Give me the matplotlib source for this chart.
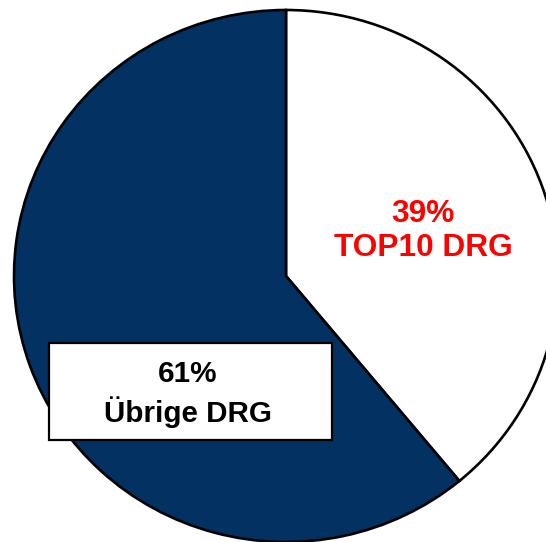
import matplotlib
matplotlib.use("Agg")
import matplotlib.pyplot as plt
from matplotlib.patches import Rectangle

labels = ["TOP10 DRG", "Übrige DRG"]
values = [39, 61]
colors = ["#ffffff", "#023162"]

W, H = 546, 542
fig = plt.figure(figsize=(W / 100, H / 100), dpi=100)
# axes in pixel terms: x 14..558, y(top) 10..542
ax = fig.add_axes([14 / W, 0 / H, 544 / W, 532 / H])
ax.pie(values, colors=colors, startangle=90, counterclock=False,
       wedgeprops=dict(edgecolor="black", linewidth=1.9), radius=1.0)
ax.set_xlim(-1, 1)
ax.set_ylim(-1, 1)
ax.set_aspect("auto")
ax.axis("off")

font = "Liberation Sans"
ax.text(0.504, 0.168, f"{values[0]}%\n{labels[0]}", color="#ff0000",
        fontsize=22.8, fontweight="bold", family=font, ha="center", va="center",
        linespacing=1.18)

ax.add_patch(Rectangle((-0.871, -0.618), 1.04, 0.366, facecolor="white",
                       edgecolor="black", linewidth=1.6, zorder=5))
ax.text(-0.362, -0.444, f"{values[1]}%\n{labels[1]}", color="black",
        fontsize=21.3, fontweight="bold", family=font, ha="center", va="center",
        linespacing=1.3, zorder=6)

fig.savefig("out.png", dpi=100)
